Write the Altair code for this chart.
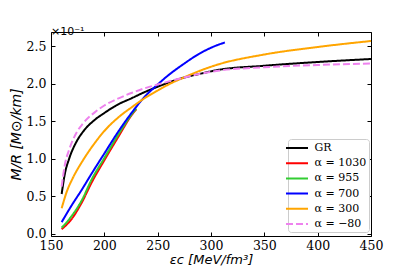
import altair as alt
import pandas as pd

# ---- data (M/R in units of 10^-1 M_sun/km) ----
names = ["GR", "α = 1030", "α = 955", "α = 700", "α = 300", "α = −80"]
colors = ["#000000", "#ff0000", "#32cd32", "#0000ff", "#ffa500", "#ee82ee"]
dashes = [[1, 0], [1, 0], [1, 0], [1, 0], [1, 0], [7, 3]]

gr_x = [160, 163, 167, 174, 180, 192, 200, 211, 226, 238, 250, 263, 274, 289, 305, 350, 400, 450]
gr_y = [0.53, 0.80, 1.00, 1.23, 1.36, 1.53, 1.61, 1.71, 1.81, 1.89, 1.96, 2.03, 2.08, 2.13, 2.18, 2.24, 2.29, 2.33]

a1030_x = [160, 169, 179, 188, 200, 213, 226, 230]
a1030_y = [0.06, 0.19, 0.42, 0.68, 0.98, 1.29, 1.59, 1.66]

a955_x = [160, 169, 179, 188, 200, 213, 226, 230]
a955_y = [0.08, 0.23, 0.45, 0.72, 1.01, 1.32, 1.60, 1.67]

a700_x = [160, 169, 179, 188, 200, 213, 226, 238, 250, 258, 274, 289, 305, 313]
a700_y = [0.155, 0.37, 0.59, 0.80, 1.07, 1.36, 1.62, 1.83, 1.99, 2.09, 2.26, 2.40, 2.51, 2.55]

a300_x = [160, 165, 170, 180, 190, 200, 213, 226, 238, 250, 263, 274, 289, 305, 350, 400, 450]
a300_y = [0.34, 0.57, 0.73, 0.98, 1.19, 1.37, 1.55, 1.69, 1.81, 1.91, 2.01, 2.08, 2.17, 2.25, 2.39, 2.49, 2.57]

am80_x = [160, 163, 167, 174, 180, 192, 200, 211, 226, 238, 250, 263, 274, 289, 305, 350, 400, 450]
am80_y = [0.63, 0.92, 1.12, 1.35, 1.47, 1.63, 1.71, 1.79, 1.88, 1.94, 1.99, 2.04, 2.08, 2.13, 2.17, 2.22, 2.25, 2.27]

x_ticks = [150, 200, 250, 300, 350, 400, 450]
y_ticks = [0.0, 0.5, 1.0, 1.5, 2.0, 2.5]

series = [
    (names[0], gr_x, gr_y),
    (names[1], a1030_x, a1030_y),
    (names[2], a955_x, a955_y),
    (names[3], a700_x, a700_y),
    (names[4], a300_x, a300_y),
    (names[5], am80_x, am80_y),
]
rows = []
for name, xs, ys in series:
    for xv, yv in zip(xs, ys):
        rows.append({"series": name, "x": xv, "y": yv})
df = pd.DataFrame(rows)

W, H = 320, 204

legend = alt.Legend(
    title=None, orient="none", legendX=237, legendY=107,
    symbolType="M-2,0H2", symbolSize=121, symbolStrokeWidth=2,
    symbolOffset=0, labelOffset=11,
    labelFont="DejaVu Serif", labelFontSize=11, labelColor="black",
    fillColor="white", strokeColor="#cccccc", cornerRadius=3,
    padding=2.5, rowPadding=3.2,
)

chart = alt.Chart(df).mark_line(strokeWidth=2, interpolate="monotone").encode(
    x=alt.X("x:Q",
            scale=alt.Scale(domain=[150, 450], nice=False, zero=False),
            axis=alt.Axis(values=x_ticks, format="d", ticks=False, domain=False,
                          labelFlush=False,
                          grid=True, gridColor="black", gridOpacity=1, gridWidth=1,
                          gridDash=[4, H - 8, 4, 1000],
                          labelFont="DejaVu Serif", labelFontSize=12.5, labelColor="black",
                          labelPadding=3,
                          title="εc [MeV/fm³]", titleFont="DejaVu Sans", titleFontStyle="italic",
                          titleFontWeight="normal", titleFontSize=13, titleColor="black",
                          titlePadding=2)),
    y=alt.Y("y:Q",
            scale=alt.Scale(domain=[-0.03, 2.69], nice=False, zero=False),
            axis=alt.Axis(values=y_ticks, format=".1f", ticks=False, domain=False,
                          labelFlush=False,
                          grid=True, gridColor="black", gridOpacity=1, gridWidth=1,
                          gridDash=[4, W - 8, 4, 1000],
                          labelFont="DejaVu Serif", labelFontSize=12.5, labelColor="black",
                          labelPadding=5,
                          title="M/R [M⊙/km]", titleFont="DejaVu Sans", titleFontStyle="italic",
                          titleFontWeight="normal", titleFontSize=14, titleColor="black",
                          titlePadding=3)),
    color=alt.Color("series:N", scale=alt.Scale(domain=names, range=colors), legend=legend),
    strokeDash=alt.StrokeDash("series:N", scale=alt.Scale(domain=names, range=dashes), legend=legend),
).properties(
    width=W, height=H,
    title=alt.TitleParams("×10⁻¹", anchor="start", frame="group", font="DejaVu Sans",
                          fontSize=11, fontWeight="normal", color="black", offset=2, dy=7),
    autosize=alt.AutoSizeParams(type="none"),
    padding={"left": 43, "top": 24, "right": 30, "bottom": 31},
).configure_view(
    stroke="black", strokeWidth=1
)

chart.save("out.html", embed_options={"renderer": "svg", "actions": False})
